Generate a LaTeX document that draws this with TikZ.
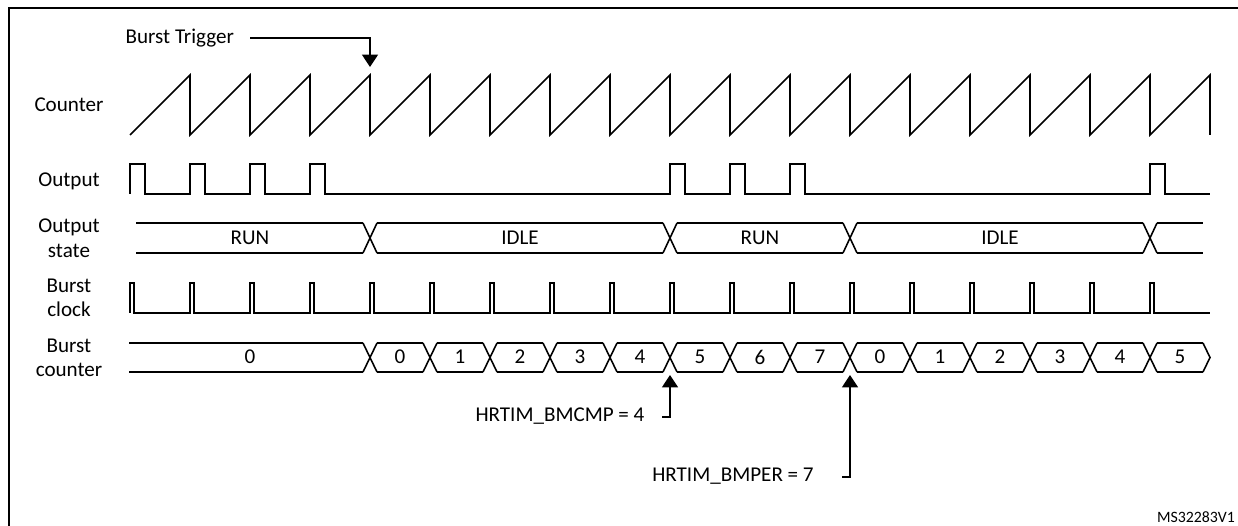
\documentclass[tikz,border=0pt]{standalone}
\usepackage{fontspec}
\setmainfont{Carlito}
\usetikzlibrary{arrows.meta,positioning}

\tikzset{
  wave/.style={line width=0.9pt, line join=miter},
  lbl/.style={font=\fontsize{12}{14}\selectfont, align=center, inner sep=1pt},
  ptr/.style={line width=0.9pt, -{Triangle[length=7pt,width=9pt]}}
}

\begin{document}
\begin{tikzpicture}[x=0.02cm, y=-0.02cm]
    \useasboundingbox (0,0) rectangle (1238,526);
    % frame
    \draw[line width=1.6pt] (9,526) -- (9,8) -- (1238,8);

    % row labels
    \node[lbl] (lcounter) at (69,105) {Counter};
    \node[lbl] (loutput) at (69,181) {Output};
    \node[lbl] (lstate) at (69,238) {Output\\state};
    \node[lbl] (lclock) at (69,298) {Burst\\clock};
    \node[lbl] (lbcount) at (69,358) {Burst\\counter};

    % counter
    \draw[wave] (130,135) foreach \k in {0,...,17}{ -- ({190+60*\k},75) -- ({190+60*\k},135) };

    % output
    \draw[wave] (130,194) foreach \x in {130,190,250,310,670,730,790,1150}{ -- (\x,194) -- (\x,164) -- ({\x+15},164) -- ({\x+15},194) } -- (1210,194);

    % output state
    \foreach \a/\b in {129/370,370/670,670/850,850/1150,1150/1210}{
      \draw[wave] ({\a+7},223) -- ({\b-7},223);
      \draw[wave] ({\a+7},253) -- ({\b-7},253);
    }
    \foreach \c in {370,670,850,1150}{
      \draw[wave] ({\c-7},223) -- ({\c+7},253);
      \draw[wave] ({\c-7},253) -- ({\c+7},223);
    }
    \node[lbl] (srun1) at (250,238) {RUN};
    \node[lbl] (sidle1) at (520,238) {IDLE};
    \node[lbl] (srun2) at (760,238) {RUN};
    \node[lbl] (sidle2) at (1000,238) {IDLE};

    % burst clock
    \draw[wave] (130,313) foreach \k in {0,...,17}{ -- ({130+60*\k},313) -- ({130+60*\k},283) -- ({134+60*\k},283) -- ({134+60*\k},313) } -- (1210,313);

    % burst counter
    \draw[wave] (129,343) -- (363,343);
    \draw[wave] (129,372) -- (363,372);
    \node[lbl] (bc00) at (250,357) {0};
    \foreach \k/\v in {0/0,1/1,2/2,3/3,4/4,5/5,6/6,7/7,8/0,9/1,10/2,11/3,12/4,13/5}{
      \draw[wave] ({363+60*\k},343) -- ({377+60*\k},372);
      \draw[wave] ({363+60*\k},372) -- ({377+60*\k},343);
      \draw[wave] ({377+60*\k},343) -- ({423+60*\k},343);
      \draw[wave] ({377+60*\k},372) -- ({423+60*\k},372);
      \node[lbl] (bc\k) at ({400+60*\k},357) {\v};
    }
    \draw[wave] (1203,343) -- (1210,357.5) -- (1203,372);

    % burst trigger
    \node[lbl, anchor=east] (trig) at (236,38) {Burst Trigger};
    \coordinate (trigtip) at (370,67);
    \draw[ptr] ([xshift=8pt]trig.east) -| (trigtip);

    % compare and period
    \node[lbl] (bmcmp) at (560,416) {HRTIM\_BMCMP = 4};
    \coordinate (cmptip) at (670,375);
    \draw[ptr] (662,417) -- (670,417) -- (cmptip);
    \node[lbl] (bmper) at (733,476) {HRTIM\_BMPER = 7};
    \coordinate (pertip) at (850,375);
    \draw[ptr] (842,477) -- (850,477) -- (pertip);

    \node[font=\fontsize{9}{11}\selectfont] (ref) at (1196,517) {MS32283V1};
\end{tikzpicture}
\end{document}
